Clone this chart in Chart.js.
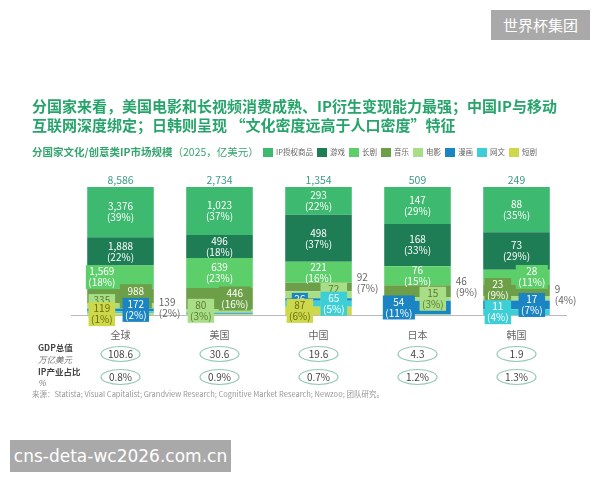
<!DOCTYPE html>
<html>
<head>
<meta charset="utf-8">
<script src="https://cdn.jsdelivr.net/npm/chart.js@4.4.1/dist/chart.umd.min.js"></script>
<style>
  html, body { margin:0; padding:0; background:#fff; }
  body { width:600px; height:480px; position:relative; overflow:hidden; font-family:"Noto Sans CJK SC","Noto Sans",sans-serif; }
  #wrap { position:absolute; left:0; top:0; width:600px; height:480px; }
  .abs { position:absolute; white-space:nowrap; }
  #title { left:32px; top:96px; font-size:15px; font-weight:bold; color:#27a46b; line-height:19px; }
  #subtitle { left:32px; top:144px; font-size:10.5px; color:#35a56f; font-weight:bold; }
  #subtitle span { font-weight:normal; }
  #legend { left:263px; top:146px; display:flex; font-size:7.5px; color:#666; line-height:12px; }
  #legend .it { display:flex; align-items:center; margin-right:4px; }
  #legend .sw { width:10px; height:9px; margin-right:3px; }
  #source { left:32px; top:388px; font-size:7.5px; color:#999; }
  #wm1 { left:491px; top:10px; width:99px; height:30px; background:#a9a9a9; color:#fff; font-size:15px; line-height:30px; text-align:center; }
  #wm2 { left:10px; top:440px; width:221px; height:32px; background:#a9a9a9; color:#fff; font-size:17px; line-height:32px; text-align:center; font-family:"DejaVu Sans",sans-serif; }
</style>
</head>
<body>
<div id="wrap"><canvas id="c" width="600" height="480"></canvas></div>
<div class="abs" id="title">分国家来看，美国电影和长视频消费成熟、IP衍生变现能力最强；中国IP与移动<br>互联网深度绑定；日韩则呈现 “文化密度远高于人口密度”特征</div>
<div class="abs" id="subtitle">分国家文化/创意类IP市场规模<span>（2025，亿美元）</span></div>
<div class="abs" id="legend"></div>
<div class="abs" id="source">来源：Statista; Visual Capitalist; Grandview Research; Cognitive Market Research; Newzoo; 团队研究。</div>
<div class="abs" id="wm1">世界杯集团</div>
<div class="abs" id="wm2">cns-deta-wc2026.com.cn</div>
<script>
// ---- data ----
const CATEGORIES = ['全球', '美国', '中国', '日本', '韩国'];
const SERIES_NAMES = ['IP授权商品', '游戏', '长剧', '音乐', '电影', '漫画', '网文', '短剧'];
const IP_LICENSING = [3376, 1023, 293, 147, 88];
const GAMES        = [1888, 496, 498, 168, 73];
const LONG_DRAMA   = [1569, 639, 221, 76, 28];
const MUSIC        = [988, 446, 92, 46, 23];
const FILM         = [335, 80, 72, 15, 9];
const COMICS       = [172, 22, 26, 54, 17];
const WEB_NOVEL    = [139, 16, 65, 2, 11];
const SHORT_DRAMA  = [119, 12, 87, 1, 0];
const GDP_TRILLION = ['108.6', '30.6', '19.6', '4.3', '1.9'];
const IP_SHARE_OF_GDP = ['0.8%', '0.9%', '0.7%', '1.2%', '1.3%'];

const SERIES_VALUES = [IP_LICENSING, GAMES, LONG_DRAMA, MUSIC, FILM, COMICS, WEB_NOVEL, SHORT_DRAMA];

// ---- styles ----
const COLORS = ['#3dba6f', '#1e7d55', '#5ccf6b', '#6c9f47', '#a8de88', '#1b84c3', '#3dcfd6', '#cdd94a'];
const BOX_TEXT = ['#fff', '#fff', '#fff', '#fff', '#5b7a2c', '#fff', '#fff', '#6a6e12'];
// label placement: c=center, l/r = boxed left/right, o = outside right, suffix 1 = value only
const LABEL_MODE = [
  ['c', 'c', 'c', 'c', 'c'],
  ['c', 'c', 'c', 'c', 'c'],
  ['l', 'c', 'c', 'c', 'r'],
  ['r', 'r', 'o', 'o', 'l'],
  ['l', 'l', 'r', 'r', 'o'],
  ['r', '', 'l1', 'l', 'r'],
  ['o', '', 'r', '', 'l'],
  ['l', '', 'l', '', '']
];

const TOTALS = CATEGORIES.map((_, j) => SERIES_VALUES.reduce((s, arr) => s + arr[j], 0));
const fmt = v => v.toLocaleString('en-US');
const FONT = '"Noto Sans CJK SC", "Noto Sans", sans-serif';

// legend
const lg = document.getElementById('legend');
SERIES_NAMES.forEach((n, i) => {
  const it = document.createElement('div'); it.className = 'it';
  const sw = document.createElement('div'); sw.className = 'sw'; sw.style.background = COLORS[i];
  const tx = document.createElement('span'); tx.textContent = n;
  it.appendChild(sw); it.appendChild(tx); lg.appendChild(it);
});

// datasets stacked bottom-up: last series first so IP授权商品 ends on top
const ORDER = SERIES_NAMES.map((_, i) => SERIES_NAMES.length - 1 - i);
const datasets = ORDER.map(i => ({
  label: SERIES_NAMES[i],
  seriesIndex: i,
  data: SERIES_VALUES[i].map((v, j) => v / TOTALS[j] * 100),
  rawValues: SERIES_VALUES[i],
  backgroundColor: COLORS[i],
  borderWidth: 0,
  barPercentage: 0.82,
  categoryPercentage: 0.82
}));

const labelPlugin = {
  id: 'labels',
  afterDatasetsDraw(chart) {
    const ctx = chart.ctx;
    ctx.save();
    ctx.font = '10px ' + FONT;
    ctx.textAlign = 'center';
    ctx.textBaseline = 'middle';
    const LH = 11;
    SERIES_NAMES.forEach((_, i) => {
      const dsIndex = chart.data.datasets.findIndex(d => d.seriesIndex === i);
      const ds = chart.data.datasets[dsIndex];
      const meta = chart.getDatasetMeta(dsIndex);
      meta.data.forEach((bar, j) => {
        const mode = LABEL_MODE[i][j];
        if (!mode) return;
        const p = bar.getProps(['x', 'y', 'base', 'width'], true);
        const top = Math.min(p.y, p.base), bot = Math.max(p.y, p.base);
        const cy = (top + bot) / 2;
        const left = p.x - p.width / 2, right = p.x + p.width / 2;
        const v = ds.rawValues[j];
        const pct = '(' + Math.round(v / TOTALS[j] * 100) + '%)';
        const lines = mode.endsWith('1') ? [fmt(v)] : [fmt(v), pct];
        const m = mode[0];
        const h = lines.length * LH;
        if (m === 'c') {
          ctx.fillStyle = '#fff';
          lines.forEach((t, k) => ctx.fillText(t, p.x, cy - h / 2 + LH / 2 + k * LH));
        } else if (m === 'l' || m === 'r') {
          const cx = m === 'l' ? left + p.width * 0.22 : left + p.width * 0.73;
          const w = Math.max(...lines.map(t => ctx.measureText(t).width)) + 5;
          ctx.fillStyle = COLORS[i];
          ctx.fillRect(cx - w / 2, cy - h / 2 - 1, w, h + 2);
          ctx.fillStyle = BOX_TEXT[i];
          lines.forEach((t, k) => ctx.fillText(t, cx, cy - h / 2 + LH / 2 + k * LH));
        } else if (m === 'o') {
          ctx.fillStyle = '#666';
          ctx.textAlign = 'left';
          lines.forEach((t, k) => ctx.fillText(t, right + 5, cy - 4 - h / 2 + LH / 2 + k * LH));
          ctx.textAlign = 'center';
        }
      });
    });
    // totals
    const meta0 = chart.getDatasetMeta(0);
    ctx.fillStyle = '#3a9a82';
    ctx.font = '10.5px ' + FONT;
    meta0.data.forEach((bar, j) => {
      ctx.fillText(fmt(TOTALS[j]), bar.x, chart.chartArea.top - 7);
    });
    ctx.restore();
  },
  afterDraw(chart) {
    const ctx = chart.ctx;
    const xs = chart.scales.x;
    ctx.save();
    ctx.textAlign = 'left';
    ctx.textBaseline = 'middle';
    ctx.fillStyle = '#444';
    ctx.font = 'bold 8.5px ' + FONT;
    ctx.fillText('GDP总值', 38, 348);
    ctx.fillText('IP产业占比', 38, 372);
    ctx.fillStyle = '#777';
    ctx.font = 'italic 8.5px ' + FONT;
    ctx.fillText('万亿美元', 38, 360);
    ctx.fillText('%', 38, 383);
    const rows = [[GDP_TRILLION, 354], [IP_SHARE_OF_GDP, 377]];
    ctx.textAlign = 'center';
    rows.forEach(([vals, y]) => {
      CATEGORIES.forEach((c, j) => {
        const x = xs.getPixelForValue(j);
        ctx.beginPath();
        ctx.ellipse(x, y, 19.5, 7.5, 0, 0, Math.PI * 2);
        ctx.fillStyle = '#fff';
        ctx.fill();
        ctx.strokeStyle = '#93c9b4';
        ctx.lineWidth = 1.2;
        ctx.stroke();
        ctx.fillStyle = '#444';
        ctx.font = '10px ' + FONT;
        ctx.fillText(vals[j], x, y + 0.5);
      });
    });
    ctx.restore();
  }
};

new Chart(document.getElementById('c'), {
  type: 'bar',
  data: { labels: CATEGORIES, datasets },
  options: {
    responsive: false,
    animation: false,
    layout: { padding: { left: 71, right: 34, top: 187, bottom: 125 } },
    plugins: { legend: { display: false }, tooltip: { enabled: false } },
    scales: {
      x: {
        stacked: true,
        grid: { display: false, drawTicks: false },
        border: { display: true, color: '#bbb', width: 1 },
        ticks: { color: '#666', font: { size: 10, family: FONT }, padding: 14 }
      },
      y: { stacked: true, display: false, min: 0, max: 100 }
    }
  },
  plugins: [labelPlugin]
});
</script>
</body>
</html>
